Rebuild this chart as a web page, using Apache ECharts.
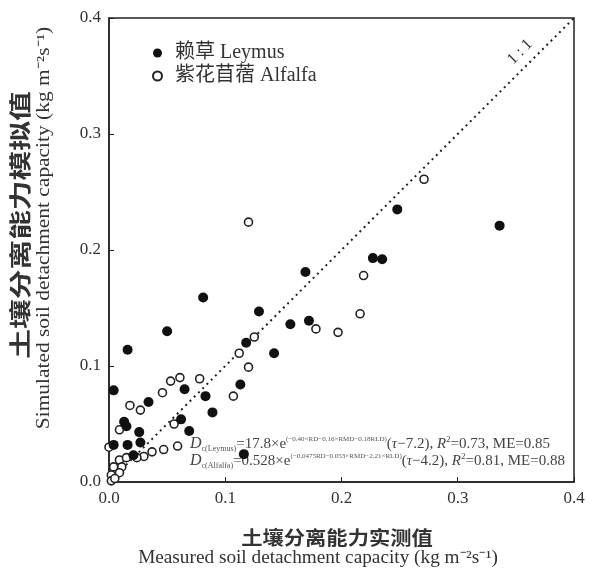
<!DOCTYPE html>
<html>
<head>
<meta charset="utf-8">
<script src="https://cdn.jsdelivr.net/npm/echarts@6/dist/echarts.min.js"></script>
<style>
html,body{margin:0;padding:0;background:#fff;}
#chart{width:592px;height:570px;}
</style>
</head>
<body>
<div id="chart"></div>
<script>
// ---- data ----
const leymusMeasured = [0.336,0.248,0.227,0.235,0.169,0.081,0.129,0.050,0.156,0.172,0.118,0.142,0.016,0.113,0.004,0.065,0.083,0.034,0.089,0.013,0.015,0.062,0.026,0.069,0.116,0.004,0.016,0.027,0.021];
const leymusSimulated = [0.221,0.235,0.193,0.192,0.181,0.159,0.147,0.130,0.136,0.139,0.120,0.111,0.114,0.084,0.079,0.080,0.074,0.069,0.060,0.052,0.048,0.054,0.043,0.044,0.024,0.032,0.032,0.034,0.023];
const alfalfaMeasured = [0.271,0.120,0.219,0.216,0.178,0.197,0.125,0.112,0.120,0.107,0.078,0.061,0.053,0.046,0.018,0.027,0.009,0.056,0.059,0.047,0.037,0.030,0.000,0.009,0.015,0.024,0.004,0.011,0.002,0.009,0.002,0.005];
const alfalfaSimulated = [0.261,0.224,0.178,0.145,0.132,0.129,0.125,0.111,0.099,0.074,0.089,0.090,0.087,0.077,0.066,0.062,0.045,0.050,0.031,0.028,0.026,0.022,0.030,0.019,0.021,0.021,0.013,0.013,0.006,0.008,0.001,0.003];
const oneToOne = [[0,0],[0.4,0.4]];
const seriesNames = ['赖草 Leymus','紫花苜蓿 Alfalfa'];
const axisTicks = {min:0, max:0.4, interval:0.1};

const pairs = (xs, ys) => xs.map((x,i)=>[x, ys[i]]);
const serif = '"Liberation Serif","Noto Sans CJK SC",serif';
const txt = '#333';

const chart = echarts.init(document.getElementById('chart'));
const fmt = v => v.toFixed(1);

const richEq = {
  d:{fontFamily:serif,fontStyle:'italic',fontSize:16,fill:'#444',lineHeight:17},
  i:{fontFamily:serif,fontStyle:'italic',fontSize:15,fill:'#444',lineHeight:17},
  n:{fontFamily:serif,fontSize:15,fill:'#444',lineHeight:17},
  sub:{fontFamily:serif,fontSize:8,fill:'#555',lineHeight:17,verticalAlign:'bottom'},
  sup:{fontFamily:serif,fontSize:7,fill:'#555',lineHeight:17,verticalAlign:'top'},
  sup2:{fontFamily:serif,fontSize:9,fill:'#444',lineHeight:17,verticalAlign:'top'}
};

chart.setOption({
  backgroundColor:'#fff',
  animation:false,
  grid:{left:109,right:18,top:18,bottom:88,show:true,borderColor:'#222',borderWidth:1.5,backgroundColor:'transparent'},
  legend:{
    orient:'vertical', left:147, top:37, itemGap:1, itemWidth:9, itemHeight:9,
    textStyle:{fontFamily:serif,fontSize:20,color:txt,lineHeight:22,padding:[0,0,0,8]},
    data:[{name:seriesNames[0],icon:'circle'},{name:seriesNames[1],icon:'circle'}]
  },
  xAxis:{
    type:'value', min:axisTicks.min, max:axisTicks.max, interval:axisTicks.interval,
    splitLine:{show:false},
    axisLine:{lineStyle:{color:'#222',width:1.5}},
    axisTick:{inside:true,length:5,lineStyle:{color:'#222'}},
    axisLabel:{formatter:fmt,fontFamily:serif,fontSize:17,color:txt,margin:8}
  },
  yAxis:{
    type:'value', min:axisTicks.min, max:axisTicks.max, interval:axisTicks.interval,
    splitLine:{show:false},
    axisLine:{lineStyle:{color:'#222',width:1.5}},
    axisTick:{inside:true,length:5,lineStyle:{color:'#222'}},
    axisLabel:{formatter:fmt,fontFamily:serif,fontSize:17,color:txt,margin:8}
  },
  series:[
    {name:'1:1',type:'line',data:oneToOne,symbol:'none',silent:true,
     lineStyle:{color:'#222',width:2,type:[2,4]},z:1},
    {name:seriesNames[0],type:'scatter',data:pairs(leymusMeasured,leymusSimulated),
     symbol:'circle',symbolSize:10,itemStyle:{color:'#111',borderColor:'#111',borderWidth:0,opacity:1},z:3},
    {name:seriesNames[1],type:'scatter',data:pairs(alfalfaMeasured,alfalfaSimulated),
     symbol:'circle',symbolSize:8,itemStyle:{color:'#fff',borderColor:'#222',borderWidth:1.6,opacity:1},z:2}
  ],
  graphic:[
    {type:'text',x:337,y:538,scaleX:1.12,style:{text:'土壤分离能力实测值',fontFamily:'"Noto Sans CJK SC"',fontSize:19,fontWeight:'bold',fill:txt,align:'center',verticalAlign:'middle'}},
    {type:'text',x:318,y:558,scaleX:1.07,style:{text:'Measured soil detachment capacity (kg m⁻²s⁻¹)',fontFamily:serif,fontSize:18,fill:txt,align:'center',verticalAlign:'middle'}},
    {type:'text',x:20,y:225,rotation:Math.PI/2,scaleX:1.35,style:{text:'土壤分离能力模拟值',fontFamily:'"Noto Sans CJK SC"',fontSize:22,fontWeight:'bold',fill:txt,align:'center',verticalAlign:'middle'}},
    {type:'text',x:44,y:228,rotation:Math.PI/2,scaleX:1.19,style:{text:'Simulated soil detachment capacity (kg m⁻²s⁻¹)',fontFamily:serif,fontSize:18,fill:txt,align:'center',verticalAlign:'middle'}},
    {type:'text',x:520,y:52,rotation:Math.PI/4,style:{text:'1 : 1',fontFamily:serif,fontSize:16,fill:txt,align:'center',verticalAlign:'middle'}},
    {type:'text',x:190,y:444,style:{
      text:'{d|D}{sub|c(Leymus)}{n|=17.8×e}{sup|(−0.40×RD−0.16×RMD−0.18RLD)}{n|(}{i|τ}{n|−7.2), }{i|R}{sup2|2}{n|=0.73, ME=0.85}',
      verticalAlign:'middle', rich:richEq}},
    {type:'text',x:190,y:461,style:{
      text:'{d|D}{sub|c(Alfalfa)}{n|=0.528×e}{sup|(−0.0475RD−0.053×RMD−2.21×RLD)}{n|(}{i|τ}{n|−4.2), }{i|R}{sup2|2}{n|=0.81, ME=0.88}',
      verticalAlign:'middle', rich:richEq}}
  ]
});
</script>
</body>
</html>
